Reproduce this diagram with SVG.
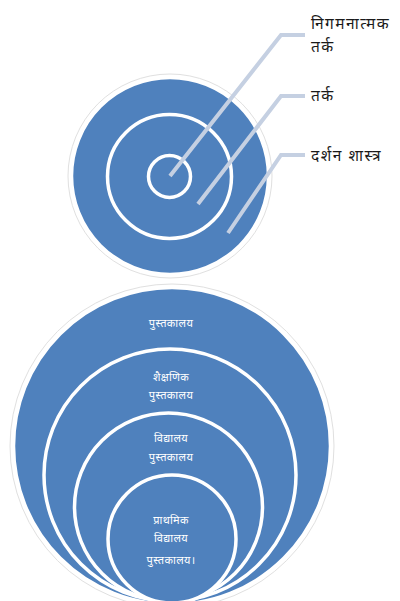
<svg xmlns="http://www.w3.org/2000/svg" width="400" height="601" viewBox="0 0 400 601">
<style>
.halo{fill:#fff;stroke:#e0e0e0;stroke-width:1}
.disk{fill:#4f81bd;stroke:#fff;stroke-width:3.5}
.ring{fill:none;stroke:#fff;stroke-width:3.5}
.lead{fill:none;stroke:#c5d0e2;stroke-width:4;stroke-linejoin:miter}
.lbl{font-family:"Noto Sans","DejaVu Sans",sans-serif;font-size:15.5px;letter-spacing:1.5px;fill:#1a1a1a}
.in{font-family:"Noto Sans","DejaVu Sans",sans-serif;font-size:11px;letter-spacing:0.4px;fill:#fff;text-anchor:middle}
</style>
<rect width="400" height="601" fill="#fff"/>
<g id="target">
  <circle class="halo" cx="170" cy="176" r="102"/>
  <circle class="disk" cx="170" cy="176" r="98.5"/>
  <circle class="ring" cx="169.5" cy="176.5" r="62"/>
  <circle class="ring" cx="169.5" cy="176.5" r="21"/>
</g>
<g id="connectors">
  <polyline class="lead" points="170,176 281,35 305,35"/>
  <polyline class="lead" points="198,204 281,96 305,96"/>
  <polyline class="lead" points="228,233 281,155 305,155"/>
</g>
<g id="label-1"><text class="lbl" x="311" y="29">निगमनात्मक</text><text class="lbl" x="311" y="52">तर्क</text></g>
<g id="label-2"><text class="lbl" x="311" y="101">तर्क</text></g>
<g id="label-3"><text class="lbl" x="311" y="161">दर्शन शास्त्र</text></g>
<g id="nested">
  <g id="n1"><circle class="halo" cx="172" cy="446" r="162"/><circle class="disk" cx="172" cy="446" r="158.5"/><text class="in" x="171" y="327">पुस्तकालय</text></g>
  <g id="n2"><circle class="disk" cx="170" cy="475" r="126"/><text class="in" x="171" y="381">शैक्षणिक</text><text class="in" x="171" y="399">पुस्तकालय</text></g>
  <g id="n3"><circle class="disk" cx="168.5" cy="507" r="94"/><text class="in" x="171" y="442">विद्यालय</text><text class="in" x="171" y="461">पुस्तकालय</text></g>
  <g id="n4"><circle class="disk" cx="172" cy="539" r="64"/><text class="in" x="171" y="524">प्राथमिक</text><text class="in" x="171" y="542">विद्यालय</text><text class="in" x="171" y="564">पुस्तकालय।</text></g>
</g>
</svg>
